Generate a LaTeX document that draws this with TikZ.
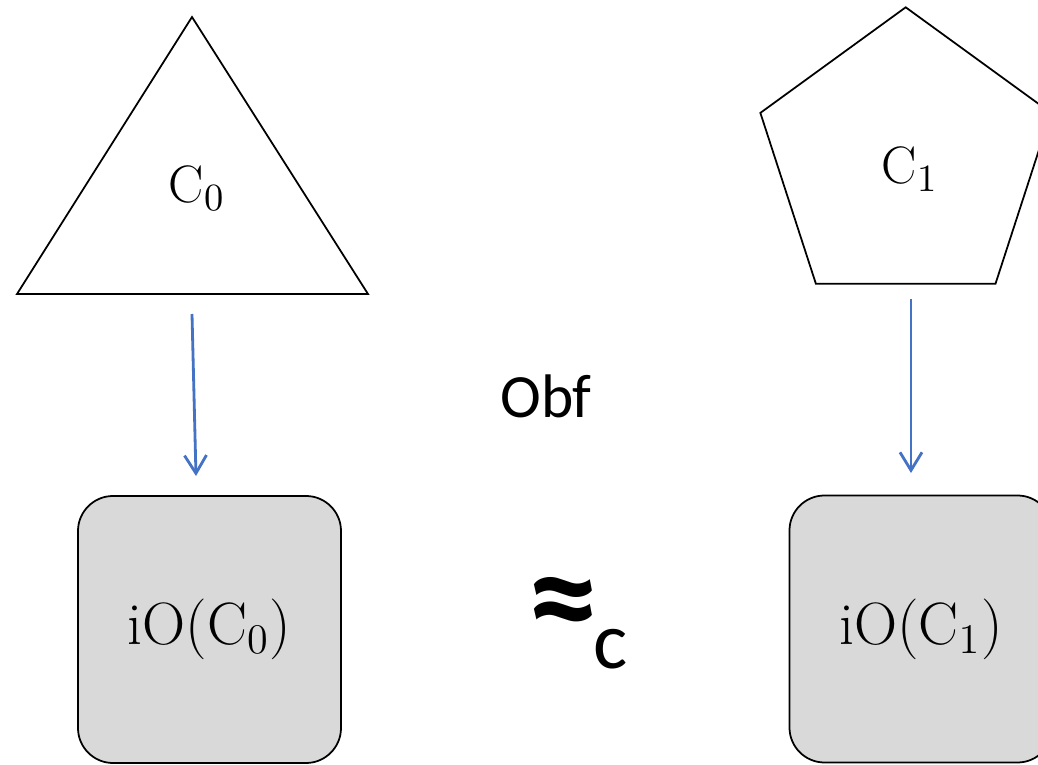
\documentclass[tikz,border=0pt]{standalone}
\usepackage{fontspec}
\newfontfamily\calibri{Carlito}
\usepackage{tikz}
\usetikzlibrary{shapes.geometric,arrows.meta,positioning,calc}
\definecolor{obfBlue}{RGB}{68,114,196}
\definecolor{obfGray}{RGB}{217,217,217}

\begin{document}
\begin{tikzpicture}[
        shp/.style={draw=black, line width=0.5pt},
        iobox/.style={draw=black, line width=0.5pt, fill=obfGray, rounded corners=0.35cm,
          minimum width=2.63cm, minimum height=2.67cm, inner sep=0pt,
          font=\fontsize{17}{20}\selectfont},
        lbl/.style={inner sep=0pt, font=\fontsize{15}{18}\selectfont},
        flow/.style={obfBlue, line width=0.8pt, -{Straight Barb[length=1.8mm, width=2.2mm]}},
      ]
        \clip (0,0) rectangle (10.38,7.64);

        % C0 -- triangle
        \coordinate (t0top) at (1.92,7.47);
        \coordinate (t0left) at (0.17,4.70);
        \coordinate (t0right) at (3.68,4.70);
        \draw[shp] (t0top) -- (t0left) -- (t0right) -- cycle;
        \node[lbl] (c0) at (1.97,5.76) {$\mathrm{C}_0$};

        % C1 -- pentagon
        \node[shp, regular polygon, regular polygon sides=5, minimum size=3.056cm,
          inner sep=0pt] (pent) at (9.057,6.039) {};
        \node[lbl] (c1) at (9.10,5.95) {$\mathrm{C}_1$};

        % obfuscated circuits
        \node[iobox] (io0) at (2.095,1.345) {$\mathrm{iO}(\mathrm{C}_0)$};
        \node[iobox] (io1) at (9.21,1.35) {$\mathrm{iO}(\mathrm{C}_1)$};

        % arrows
        \coordinate (a0from) at (1.92,4.50);
        \coordinate (a0to) at (1.96,2.88);
        \coordinate (a1from) at (9.11,4.65);
        \coordinate (a1to) at (9.11,2.91);
        \draw[flow] (a0from) -- (a0to);
        \draw[flow] (a1from) -- (a1to);

        % middle texts
        \node[inner sep=0pt, font=\calibri\fontsize{17.5}{20}\selectfont] (obf) at (5.46,3.68) {Obf};
        \node[inner sep=0pt, text depth=0pt, anchor=base,
          font=\calibri\bfseries\fontsize{41}{45}\selectfont] (approx) at (5.63,1.19) {≈};
        \node[inner sep=0pt, font=\calibri\fontsize{23}{26}\selectfont] (cidx) at (6.11,1.15) {c};
      \end{tikzpicture}
\end{document}
